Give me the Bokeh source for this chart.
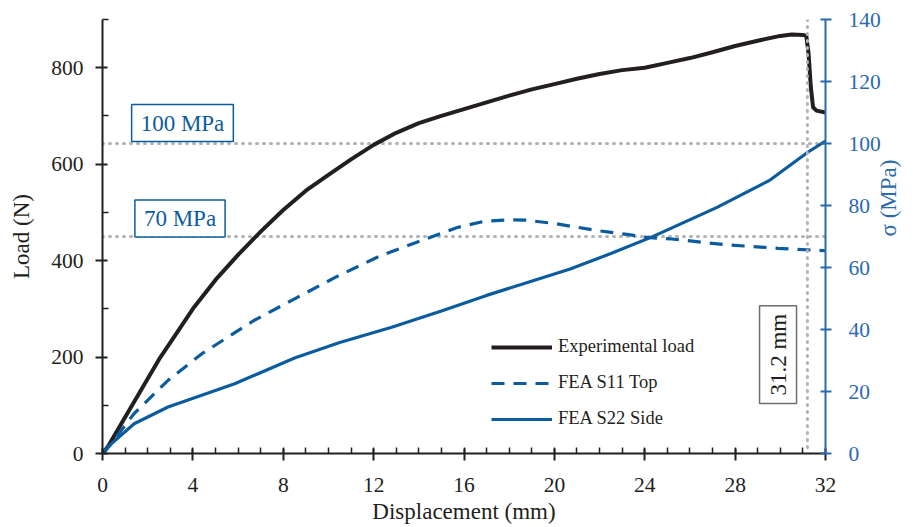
import math
from bokeh.plotting import figure
from bokeh.models import Range1d, LinearAxis, FixedTicker, Span, Label, Legend, LegendItem
from bokeh.embed import file_html
from bokeh.resources import INLINE

# ---------------- data ----------------
disp_exp = [0, 0.25, 0.5, 1, 1.5, 2, 2.5, 3, 4, 5, 6, 7, 8, 9, 10, 11, 12, 13, 14, 15,
            16, 17, 18, 19, 20, 21, 22, 23, 24, 25, 26, 27, 28, 29, 30, 30.5, 31.0,
            31.15, 31.25, 31.35, 31.45, 31.6, 32.0]
load_exp = [0, 15, 35, 75, 115, 155, 195, 230, 300, 360, 412, 460, 505, 545, 578, 610,
            640, 665, 685, 700, 714, 728, 742, 755, 766, 777, 787, 795, 800, 810, 820,
            832, 845, 856, 866, 869, 868, 866, 830, 760, 718, 711, 707]

disp_s11 = [0, 0.4, 1.4, 2.9, 4.4, 6.7, 8.4, 10.3, 12.3, 14.3, 15.7, 16.9, 18.0, 18.7,
            20.0, 21.9, 23.3, 24.1, 25.2, 27.5, 29.9, 32]
s11_mpa = [0, 3.3, 12.9, 23.6, 32.2, 42.9, 49.5, 56.8, 63.8, 69.2, 72.9, 74.9, 75.4, 75.3,
           74.2, 71.9, 70.6, 69.7, 69.2, 67.4, 66.2, 65.4]

disp_s22 = [0, 0.4, 1.4, 2.9, 5.85, 8.5, 10.5, 12.8, 15.0, 17.0, 20.7, 22.5, 24.3, 27.2,
            29.5, 31.2, 32]
s22_mpa = [0, 3.2, 9.6, 15.0, 22.5, 30.8, 35.8, 40.7, 46.0, 51.0, 59.5, 64.5, 69.8, 79.4,
           88.0, 97.1, 100.8]

x_ticks = [0, 4, 8, 12, 16, 20, 24, 28, 32]
x_minor = list(range(0, 33))
load_ticks = [0, 200, 400, 600, 800]
load_minor = [100, 300, 500, 700, 900]
mpa_ticks = [0, 20, 40, 60, 80, 100, 120, 140]

stress_levels = [100, 70]
stress_labels = ["100 MPa", "70 MPa"]
stress_label_x = [3.54, 3.43]
stress_label_y = [106.6, 75.8]
failure_disp = 31.2
failure_label = "31.2 mm"
failure_label_x = 29.9
failure_label_y = 205

series_names = ["Experimental load", "FEA S11 Top", "FEA S22 Side"]
right_axis_title = "σ (MPa)"

# ---------------- styling ----------------
BLACK = "#231f20"
BLUE = "#0b5c9e"
AXBLUE = "#2a6aae"
GRAY = "#b3b3b3"
FONT = "Liberation Serif"

p = figure(width=916, height=527, output_backend="svg", toolbar_location=None,
           x_range=Range1d(0, 32), y_range=Range1d(0, 900),
           min_border_left=102, min_border_right=91, min_border_top=19, min_border_bottom=74)
p.extra_y_ranges = {"mpa": Range1d(0, 140)}
p.grid.visible = False
p.outline_line_color = None
p.background_fill_color = "white"
p.border_fill_color = "white"

# axes
xa = p.xaxis[0]
xa.ticker = FixedTicker(ticks=x_ticks, minor_ticks=x_minor)
xa.axis_label = "Displacement (mm)"
ya = p.yaxis[0]
ya.ticker = FixedTicker(ticks=load_ticks, minor_ticks=load_minor)
ya.axis_label = "Load (N)"
for ax in (xa, ya):
    ax.axis_line_color = BLACK
    ax.axis_line_width = 2
    ax.major_tick_line_color = BLACK
    ax.major_tick_line_width = 2
    ax.minor_tick_line_color = BLACK
    ax.minor_tick_line_width = 1.5
    ax.major_tick_in = 5
    ax.major_tick_out = 7
    ax.minor_tick_in = 6
    ax.minor_tick_out = 0
    ax.major_label_text_font = FONT
    ax.major_label_text_font_size = "21.5px"
    ax.major_label_text_color = BLACK
    ax.axis_label_text_font = FONT
    ax.axis_label_text_font_size = "23px"
    ax.axis_label_text_font_style = "normal"
    ax.axis_label_text_color = BLACK
xa.major_label_standoff = 17
xa.axis_label_standoff = 4
ya.major_label_standoff = 12
ya.axis_label_standoff = 14

ra = LinearAxis(y_range_name="mpa", ticker=FixedTicker(ticks=mpa_ticks, minor_ticks=[]),
                axis_label=right_axis_title)
ra.axis_line_color = AXBLUE
ra.axis_line_width = 2
ra.major_tick_line_color = AXBLUE
ra.major_tick_line_width = 2
ra.major_tick_in = 5
ra.major_tick_out = 6
ra.minor_tick_line_color = None
ra.major_label_text_font = FONT
ra.major_label_text_font_size = "21.5px"
ra.major_label_text_color = AXBLUE
ra.major_label_standoff = 17
ra.axis_label_text_font = FONT
ra.axis_label_text_font_size = "23px"
ra.axis_label_text_font_style = "normal"
ra.axis_label_text_color = AXBLUE
ra.axis_label_standoff = 5
try:
    ra.axis_label_orientation = math.pi / 2
except AttributeError:
    pass
p.add_layout(ra, "right")

# reference lines
for lvl in stress_levels:
    p.add_layout(Span(location=lvl, dimension="width", y_range_name="mpa",
                      line_color=GRAY, line_width=3, line_dash="1 6", line_cap="round",
                      level="underlay"))
p.add_layout(Span(location=failure_disp, dimension="height", line_color=GRAY,
                  line_width=3, line_dash="1 6", line_cap="round"))

# series
r_exp = p.line(disp_exp, load_exp, line_color=BLACK, line_width=4, line_join="round")
r_s11 = p.line(disp_s11, s11_mpa, y_range_name="mpa", line_color=BLUE, line_width=3.2,
               line_dash="13 9")
r_s22 = p.line(disp_s22, s22_mpa, y_range_name="mpa", line_color=BLUE, line_width=3.2)

# labels
for t, lx, ly in zip(stress_labels, stress_label_x, stress_label_y):
    p.add_layout(Label(x=lx, y=ly, y_range_name="mpa", text=t, text_align="center",
                       text_baseline="middle", text_font=FONT, text_font_size="23px",
                       text_color=BLUE, border_line_color=BLUE, border_line_width=1.5,
                       background_fill_color="white", padding=(9, 6)))
p.add_layout(Label(x=failure_label_x, y=failure_label_y, text=failure_label, angle=math.pi / 2,
                   text_align="center", text_baseline="middle", text_font=FONT,
                   text_font_size="23px", text_color=BLACK, border_line_color="#6d6e70",
                   border_line_width=1.5, background_fill_color="white", padding=(8, 6)))

legend = Legend(items=[LegendItem(label=series_names[0], renderers=[r_exp]),
                       LegendItem(label=series_names[1], renderers=[r_s11]),
                       LegendItem(label=series_names[2], renderers=[r_s22])],
                location=(389, 24), border_line_color=None, background_fill_alpha=0,
                padding=0, margin=0, spacing=15, glyph_width=61, glyph_height=20,
                label_height=20, label_standoff=6, label_text_font=FONT,
                label_text_font_size="18.5px", label_text_color=BLACK)
p.add_layout(legend)

open("out.html", "w").write(file_html(p, INLINE))
